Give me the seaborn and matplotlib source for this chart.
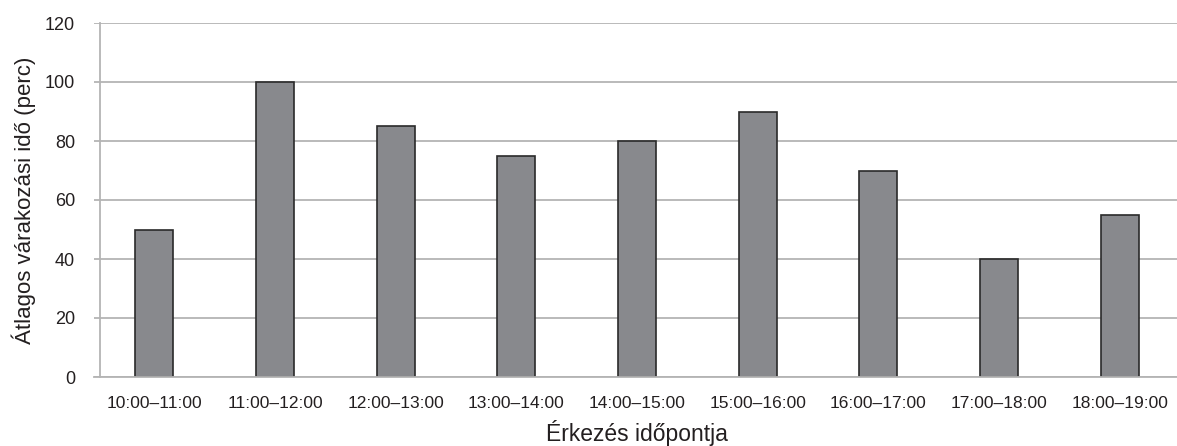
import matplotlib
matplotlib.use('Agg')
import matplotlib.pyplot as plt
import seaborn as sns
import pandas as pd

categories = ['10:00–11:00', '11:00–12:00', '12:00–13:00', '13:00–14:00', '14:00–15:00',
              '15:00–16:00', '16:00–17:00', '17:00–18:00', '18:00–19:00']
wait_minutes = [50, 100, 85, 75, 80, 90, 70, 40, 55]
y_ticks = [0, 20, 40, 60, 80, 100, 120]


def main():
    sns.set_style('white')
    plt.rcParams['font.family'] = ['Liberation Sans Narrow', 'Liberation Sans', 'DejaVu Sans']

    data = pd.DataFrame({'slot': categories, 'wait': wait_minutes})

    # axes span a bit wider than the picture, like the Excel category axis
    fig = plt.figure(figsize=(11.77, 4.46), dpi=100)
    left, right = 94 / 1177, 1180 / 1177
    ax = fig.add_axes([left, 1 - 377 / 446, right - left, (377 - 23) / 446])

    sns.barplot(data=data, x='slot', y='wait', ax=ax, color='#88898d',
                edgecolor='#2a2a2a', linewidth=1.2, width=0.315, saturation=1)

    ax.set_ylim(0, 120)
    ax.set_yticks(y_ticks)
    ax.set_xlim(-0.5, len(categories) - 0.5)
    ax.yaxis.grid(True, color='#b4b4b4', linewidth=1.3)
    ax.set_axisbelow(True)

    for side in ['top', 'right']:
        ax.spines[side].set_visible(False)
    ax.spines['left'].set_position(('axes', 6 / 1086))
    ax.spines['left'].set_color('#b4b4b4')
    ax.spines['bottom'].set_color('#b4b4b4')
    ax.spines['left'].set_linewidth(1.3)
    ax.spines['bottom'].set_linewidth(1.3)

    ax.tick_params(axis='y', length=0, labelsize=13, labelcolor='#231f20', pad=18)
    ax.tick_params(axis='x', length=0, labelsize=12.5, labelcolor='#231f20', pad=14)

    ax.set_ylabel('Átlagos várakozási idő (perc)', fontsize=16, color='#231f20', labelpad=6)
    ax.set_xlabel('Érkezés időpontja', fontsize=16.5, color='#231f20', labelpad=6)

    fig.savefig('out.png', dpi=100)
    plt.close(fig)


if __name__ == '__main__':
    main()
